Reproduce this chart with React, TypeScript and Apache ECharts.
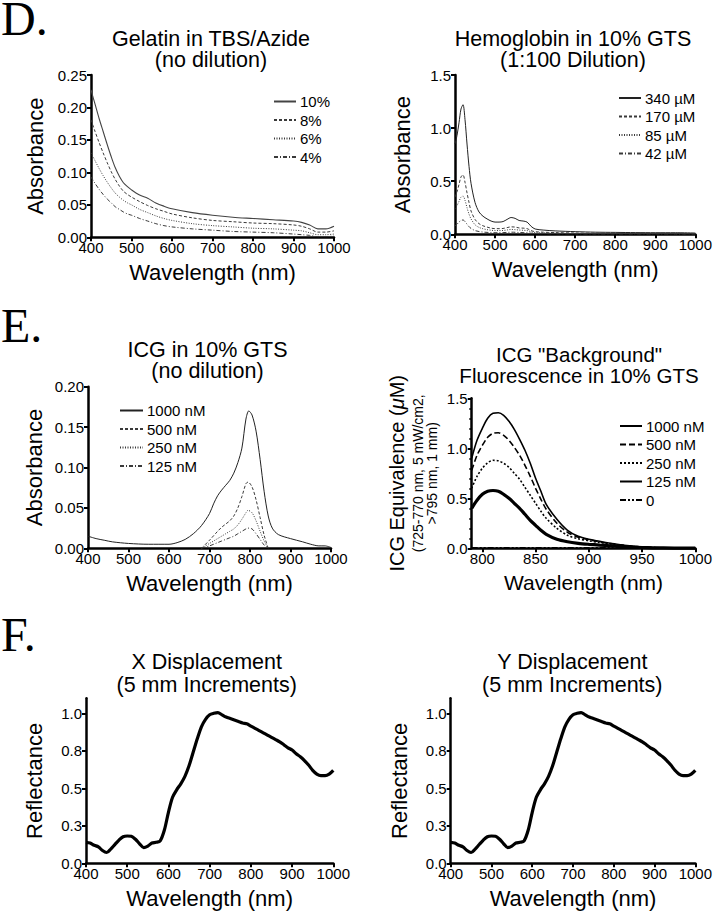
import React, { useEffect, useRef } from 'react';
import * as echarts from 'echarts';

const FONT = 'Liberation Sans';
const SERIF = 'Liberation Serif';

// ---- D (left): Gelatin in TBS/Azide ----
const gelWl = [400, 410, 420, 430, 440, 450, 460, 470, 480, 490, 500, 520, 540, 560, 580, 600, 650, 700, 750, 800, 850, 900, 920, 940, 960, 980, 1000];
const gel10 = [0.227, 0.205, 0.183, 0.163, 0.143, 0.124, 0.107, 0.094, 0.084, 0.078, 0.073, 0.065, 0.060, 0.053, 0.048, 0.044, 0.038, 0.034, 0.031, 0.029, 0.027, 0.025, 0.023, 0.019, 0.013, 0.013, 0.017];
const gel8 = [0.181, 0.163, 0.146, 0.130, 0.115, 0.101, 0.089, 0.079, 0.071, 0.066, 0.062, 0.055, 0.049, 0.044, 0.040, 0.036, 0.030, 0.026, 0.024, 0.022, 0.021, 0.019, 0.017, 0.013, 0.008, 0.008, 0.010];
const gel6 = [0.130, 0.118, 0.106, 0.095, 0.085, 0.076, 0.068, 0.062, 0.057, 0.053, 0.050, 0.043, 0.038, 0.033, 0.029, 0.026, 0.021, 0.018, 0.016, 0.014, 0.013, 0.011, 0.010, 0.007, 0.004, 0.004, 0.005];
const gel4 = [0.093, 0.083, 0.074, 0.066, 0.059, 0.053, 0.047, 0.043, 0.039, 0.036, 0.034, 0.029, 0.025, 0.021, 0.018, 0.016, 0.013, 0.011, 0.009, 0.008, 0.007, 0.005, 0.004, 0.003, 0.001, 0.001, 0.002];
const gelNames = ['10%', '8%', '6%', '4%'];

// ---- D (right): Hemoglobin in 10% GTS ----
const hbWl = [400, 405, 410, 415, 420, 425, 430, 435, 440, 450, 460, 470, 480, 490, 500, 510, 520, 530, 540, 550, 560, 570, 580, 590, 600, 620, 650, 700, 750, 800, 850, 900, 950, 1000];
const hb340 = [0.85, 0.93, 1.05, 1.18, 1.22, 1.08, 0.85, 0.64, 0.48, 0.30, 0.21, 0.17, 0.145, 0.125, 0.115, 0.115, 0.12, 0.14, 0.158, 0.15, 0.13, 0.125, 0.115, 0.075, 0.05, 0.04, 0.032, 0.025, 0.02, 0.018, 0.016, 0.015, 0.015, 0.012];
const hb170 = [0.35, 0.40, 0.47, 0.54, 0.56, 0.49, 0.39, 0.30, 0.22, 0.14, 0.10, 0.08, 0.068, 0.058, 0.053, 0.053, 0.055, 0.063, 0.07, 0.068, 0.06, 0.058, 0.053, 0.035, 0.025, 0.02, 0.016, 0.012, 0.01, 0.009, 0.008, 0.008, 0.007, 0.006];
const hb85 = [0.24, 0.27, 0.31, 0.35, 0.36, 0.32, 0.25, 0.19, 0.145, 0.09, 0.065, 0.052, 0.044, 0.038, 0.035, 0.035, 0.036, 0.041, 0.046, 0.044, 0.04, 0.038, 0.035, 0.024, 0.017, 0.013, 0.01, 0.008, 0.006, 0.006, 0.005, 0.005, 0.005, 0.004];
const hb42 = [0.08, 0.095, 0.115, 0.13, 0.135, 0.12, 0.095, 0.072, 0.055, 0.035, 0.026, 0.021, 0.018, 0.016, 0.015, 0.015, 0.016, 0.018, 0.02, 0.019, 0.017, 0.016, 0.015, 0.01, 0.008, 0.006, 0.005, 0.004, 0.003, 0.003, 0.003, 0.003, 0.003, 0.002];
const hbNames = ['340 µM', '170 µM', '85 µM', '42 µM'];

// ---- E (left): ICG in 10% GTS ----
const icg1000Wl = [400, 420, 440, 460, 500, 550, 600, 620, 640, 660, 680, 700, 710, 720, 730, 740, 750, 760, 770, 780, 790, 797, 805, 815, 825, 835, 845, 855, 870, 900, 930, 950, 970, 985, 1000];
const icg1000 = [0.015, 0.012, 0.010, 0.008, 0.006, 0.005, 0.005, 0.007, 0.011, 0.018, 0.028, 0.043, 0.055, 0.065, 0.072, 0.078, 0.084, 0.093, 0.106, 0.124, 0.160, 0.170, 0.165, 0.145, 0.110, 0.070, 0.040, 0.025, 0.017, 0.012, 0.008, 0.005, 0.003, 0.003, 0.001];
const icgLowWl = [680, 700, 720, 730, 740, 750, 760, 770, 780, 790, 795, 805, 815, 825, 835, 845];
const icg500 = [0, 0.010, 0.021, 0.026, 0.030, 0.034, 0.040, 0.050, 0.064, 0.080, 0.082, 0.076, 0.060, 0.038, 0.016, 0];
const icg250 = [0, 0.006, 0.012, 0.015, 0.018, 0.021, 0.024, 0.029, 0.036, 0.044, 0.047, 0.044, 0.034, 0.021, 0.009, 0];
const icg125 = [0, 0.003, 0.007, 0.009, 0.011, 0.013, 0.015, 0.018, 0.021, 0.024, 0.025, 0.024, 0.018, 0.011, 0.004, 0];
const icgNames = ['1000 nM', '500 nM', '250 nM', '125 nM'];

// ---- E (right): ICG "Background" fluorescence ----
const flWl = [790, 795, 800, 805, 810, 815, 820, 825, 830, 835, 840, 845, 850, 855, 860, 870, 880, 890, 900, 910, 920, 930, 940, 950, 960, 980, 1000];
const fl1000 = [0.90, 1.08, 1.20, 1.30, 1.35, 1.355, 1.33, 1.27, 1.19, 1.09, 0.98, 0.85, 0.70, 0.57, 0.44, 0.29, 0.18, 0.12, 0.09, 0.07, 0.05, 0.035, 0.022, 0.013, 0.008, 0.003, 0.001];
const fl500 = [0.78, 0.93, 1.03, 1.11, 1.15, 1.155, 1.13, 1.08, 1.01, 0.93, 0.83, 0.72, 0.60, 0.49, 0.39, 0.25, 0.16, 0.11, 0.085, 0.065, 0.047, 0.033, 0.021, 0.013, 0.008, 0.003, 0.001];
const fl250 = [0.60, 0.72, 0.80, 0.855, 0.88, 0.875, 0.85, 0.81, 0.75, 0.69, 0.61, 0.53, 0.45, 0.37, 0.30, 0.20, 0.13, 0.095, 0.075, 0.058, 0.043, 0.03, 0.02, 0.012, 0.007, 0.003, 0.001];
const fl125 = [0.40, 0.48, 0.54, 0.57, 0.578, 0.57, 0.54, 0.50, 0.45, 0.40, 0.34, 0.28, 0.23, 0.18, 0.14, 0.09, 0.065, 0.05, 0.04, 0.032, 0.025, 0.018, 0.012, 0.008, 0.005, 0.002, 0.001];
const fl0 = [0.004, 0.004, 0.004, 0.004, 0.004, 0.004, 0.004, 0.004, 0.004, 0.004, 0.004, 0.004, 0.004, 0.004, 0.004, 0.004, 0.004, 0.004, 0.004, 0.004, 0.004, 0.004, 0.004, 0.004, 0.004, 0.004, 0.004];
const flNames = ['1000 nM', '500 nM', '250 nM', '125 nM', '0'];

// ---- F: Reflectance (X and Y displacement) ----
const refWl = [400, 410, 420, 430, 440, 450, 460, 470, 480, 490, 500, 510, 520, 530, 540, 550, 560, 570, 580, 590, 600, 610, 620, 630, 640, 650, 660, 670, 680, 690, 700, 710, 720, 730, 740, 750, 760, 770, 780, 790, 800, 810, 820, 830, 840, 850, 860, 870, 880, 890, 900, 910, 920, 930, 940, 950, 960, 970, 980, 990, 1000];
const refX = [0.14, 0.135, 0.12, 0.11, 0.085, 0.072, 0.095, 0.125, 0.155, 0.177, 0.182, 0.18, 0.16, 0.13, 0.105, 0.115, 0.135, 0.14, 0.15, 0.22, 0.34, 0.44, 0.49, 0.53, 0.58, 0.65, 0.74, 0.83, 0.91, 0.96, 0.99, 1.0, 1.005, 0.99, 0.975, 0.965, 0.955, 0.945, 0.935, 0.93, 0.915, 0.9, 0.885, 0.87, 0.855, 0.84, 0.825, 0.81, 0.79, 0.77, 0.755, 0.73, 0.71, 0.685, 0.655, 0.62, 0.595, 0.585, 0.585, 0.595, 0.62];
const refY = [0.14, 0.135, 0.12, 0.11, 0.085, 0.072, 0.095, 0.125, 0.155, 0.177, 0.182, 0.18, 0.16, 0.13, 0.105, 0.115, 0.135, 0.14, 0.15, 0.22, 0.34, 0.44, 0.49, 0.53, 0.58, 0.65, 0.74, 0.83, 0.91, 0.96, 0.99, 1.0, 1.005, 0.99, 0.975, 0.965, 0.955, 0.945, 0.935, 0.93, 0.915, 0.9, 0.885, 0.87, 0.855, 0.84, 0.825, 0.81, 0.79, 0.77, 0.755, 0.73, 0.71, 0.685, 0.655, 0.62, 0.595, 0.585, 0.585, 0.595, 0.62];

const flTicks = [800, 850, 900, 950, 1000];
const refTicks = [0, 0.25, 0.5, 0.75, 1.0];

const zip = (xs: number[], ys: number[]) => xs.map((x, i) => [x, ys[i]]);

function mkLine(name: string, idx: number, xs: number[], ys: number[], color: string, width: number, dash: any, smooth = 0.3) {
  return {
    type: 'line',
    name,
    xAxisIndex: idx,
    yAxisIndex: idx,
    data: zip(xs, ys),
    symbol: 'none',
    smooth,
    silent: true,
    lineStyle: { color, width, type: dash },
    itemStyle: { color },
  };
}

const axisBase = {
  axisLine: { show: true, onZero: false, lineStyle: { color: '#000', width: 2.5 } },
  axisTick: { show: true, inside: false, length: 4, lineStyle: { color: '#000', width: 2 } },
  splitLine: { show: false },
  nameTextStyle: { color: '#000', fontSize: 22, fontFamily: FONT },
};

const xFmt = (v: number) => String(v);
const xLabel = { color: '#000', fontSize: 15, lineHeight: 11, fontFamily: FONT, margin: 5, formatter: xFmt };

function xAxis(idx: number, extra: any = {}) {
  return {
    type: 'value',
    gridIndex: idx,
    min: 400,
    max: 1000,
    interval: 100,
    name: 'Wavelength (nm)',
    nameLocation: 'middle',
    nameGap: 24,
    ...axisBase,
    axisLabel: xLabel,
    ...extra,
  };
}

function yLabel(digits: number, extra: any = {}) {
  return { color: '#000', fontSize: 15, lineHeight: 11, fontFamily: FONT, margin: 4, formatter: (v: number) => v.toFixed(digits), ...extra };
}

function yAxis(idx: number, extra: any = {}, digits = 2) {
  return {
    type: 'value',
    gridIndex: idx,
    nameLocation: 'middle',
    nameRotate: 90,
    ...axisBase,
    axisLabel: yLabel(digits),
    ...extra,
  };
}

function legend(left: number, top: number, names: string[], itemWidth = 22) {
  return {
    orient: 'vertical',
    left,
    top,
    itemWidth,
    itemHeight: 12,
    itemGap: 3.5,
    padding: 0,
    selectedMode: false,
    data: names,
    formatter: (n: string) => n.split('|')[1],
    itemStyle: { color: 'rgba(0,0,0,0)', borderColor: 'rgba(0,0,0,0)', borderWidth: 0, opacity: 0 },
    textStyle: { color: '#000', fontSize: 15, fontFamily: FONT, padding: [0, 0, 0, -1] },
  };
}

function title(x: number, y: number, text: string, size = 21, lh = 21.5) {
  return {
    type: 'text',
    x,
    y,
    silent: true,
    style: { text, fill: '#000', font: `${size}px ${FONT}`, textAlign: 'center', textVerticalAlign: 'middle', lineHeight: lh },
  };
}

function letter(y: number, text: string) {
  return {
    type: 'text',
    x: 1,
    y,
    silent: true,
    style: { text, fill: '#000', font: `48px ${SERIF}`, textAlign: 'left', textVerticalAlign: 'middle', lineHeight: 34 },
  };
}

export default function App() {
  const ref = useRef<HTMLDivElement>(null);
  useEffect(() => {
    if (!ref.current) return;
    const chart = echarts.init(ref.current, undefined, { renderer: 'svg' });
    const gray = '#3a3a3a';
    const series: any[] = [
      mkLine('D1|' + gelNames[0], 0, gelWl, gel10, '#444', 1.1, 'solid'),
      mkLine('D1|' + gelNames[1], 0, gelWl, gel8, gray, 1, [3, 2]),
      mkLine('D1|' + gelNames[2], 0, gelWl, gel6, gray, 1, [1, 1.5]),
      mkLine('D1|' + gelNames[3], 0, gelWl, gel4, gray, 1, [4, 2, 1, 2]),
      mkLine('D2|' + hbNames[0], 1, hbWl, hb340, '#222', 1, 'solid'),
      mkLine('D2|' + hbNames[1], 1, hbWl, hb170, gray, 1, [3, 2]),
      mkLine('D2|' + hbNames[2], 1, hbWl, hb85, gray, 1, [1, 1.5]),
      mkLine('D2|' + hbNames[3], 1, hbWl, hb42, gray, 1, [4, 2, 1, 2]),
      mkLine('E1|' + icgNames[0], 2, icg1000Wl, icg1000, '#222', 1, 'solid'),
      mkLine('E1|' + icgNames[1], 2, icgLowWl, icg500, gray, 1, [3, 2]),
      mkLine('E1|' + icgNames[2], 2, icgLowWl, icg250, gray, 1, [1, 1.5]),
      mkLine('E1|' + icgNames[3], 2, icgLowWl, icg125, gray, 1, [4, 2, 1, 2]),
      mkLine('E2|' + flNames[0], 3, flWl, fl1000, '#000', 1.6, 'solid'),
      mkLine('E2|' + flNames[1], 3, flWl, fl500, '#000', 1.6, [6, 3]),
      mkLine('E2|' + flNames[2], 3, flWl, fl250, '#000', 1.6, [2, 2]),
      mkLine('E2|' + flNames[3], 3, flWl, fl125, '#000', 3.2, 'solid'),
      mkLine('E2|' + flNames[4], 3, flWl, fl0, '#000', 1.6, [6, 2, 2, 2, 2, 2]),
      mkLine('F1|X', 4, refWl, refX, '#000', 3.2, 'solid'),
      mkLine('F2|Y', 5, refWl, refY, '#000', 3.2, 'solid'),
    ];

    const refLabel = yLabel(1, { customValues: refTicks });
    const refTick = { show: true, length: 4, lineStyle: { color: '#000', width: 2 }, customValues: refTicks };

    const option: any = {
      animation: false,
      backgroundColor: '#fff',
      textStyle: { fontFamily: FONT },
      grid: [
        { left: 91, top: 75, width: 243, height: 162.3 },
        { left: 455, top: 75, width: 242, height: 159.3 },
        { left: 88, top: 386.7, width: 243, height: 161.6 },
        { left: 471.7, top: 398.3, width: 225.6, height: 150 },
        { left: 86, top: 698.3, width: 247.3, height: 165 },
        { left: 450.7, top: 698.3, width: 247.6, height: 165 },
      ],
      xAxis: [
        xAxis(0),
        xAxis(1),
        xAxis(2),
        xAxis(3, {
          min: 790,
          max: 1000,
          interval: undefined,
          nameTextStyle: { color: '#000', fontSize: 21, fontFamily: FONT },
          axisTick: { show: true, length: 4, lineStyle: { color: '#000', width: 2 }, customValues: flTicks },
          axisLabel: { ...xLabel, customValues: flTicks },
        }),
        xAxis(4),
        xAxis(5),
      ],
      yAxis: [
        yAxis(0, { min: 0, max: 0.25, interval: 0.05, name: 'Absorbance', nameGap: 45 }, 2),
        yAxis(1, { min: 0, max: 1.5, interval: 0.5, name: 'Absorbance', nameGap: 42 }, 1),
        yAxis(2, { min: 0, max: 0.2, interval: 0.05, name: 'Absorbance', nameGap: 43 }, 2),
        yAxis(3, {
          min: 0,
          max: 1.5,
          interval: 0.5,
          minorTick: { show: true, splitNumber: 5, length: 2.5, lineStyle: { color: '#000', width: 1.5 } },
          name: '{a|ICG Equivalence (}{mu|μ}{a|M)}\n{b|(725-770 nm, 5 mW/cm2,}\n{b|>795 nm, 1 mm)}',
          nameGap: 33,
          nameTextStyle: {
            color: '#000',
            fontFamily: FONT,
            rich: {
              a: { fontSize: 20, lineHeight: 28, fontFamily: FONT, color: '#000' },
              mu: { fontSize: 20, lineHeight: 28, fontStyle: 'italic', fontFamily: FONT, color: '#000' },
              b: { fontSize: 14, lineHeight: 14, fontFamily: FONT, color: '#000' },
            },
          },
        }, 1),
        yAxis(4, { min: 0, max: 1.1, name: 'Reflectance', nameGap: 40.7, axisTick: refTick, axisLabel: refLabel }, 1),
        yAxis(5, { min: 0, max: 1.1, name: 'Reflectance', nameGap: 40.4, axisTick: refTick, axisLabel: refLabel }, 1),
      ],
      legend: [
        legend(273, 94, gelNames.map((n) => 'D1|' + n)),
        legend(618, 90.5, hbNames.map((n) => 'D2|' + n)),
        legend(119, 403, icgNames.map((n) => 'E1|' + n), 23),
        legend(619, 418.5, flNames.map((n) => 'E2|' + n)),
      ],
      graphic: [
        letter(18, 'D.'),
        letter(325, 'E.'),
        letter(634, 'F.'),
        title(211, 49.5, 'Gelatin in TBS/Azide\n(no dilution)', 21.5),
        title(573, 49.5, 'Hemoglobin in 10% GTS\n(1:100 Dilution)', 21.5),
        title(207.5, 360.5, 'ICG in 10% GTS\n(no dilution)', 21.5),
        title(579, 364.5, 'ICG "Background"\nFluorescence in 10% GTS', 20.5, 21),
        title(206.7, 673, 'X Displacement\n(5 mm Increments)', 21.5, 23),
        title(572.3, 673, 'Y Displacement\n(5 mm Increments)', 21.5, 23),
      ],
      series,
    };
    chart.setOption(option);
    return () => chart.dispose();
  }, []);
  return <div ref={ref} style={{ position: 'fixed', left: 0, top: 0, width: 715, height: 912, background: '#fff' }} />;
}
